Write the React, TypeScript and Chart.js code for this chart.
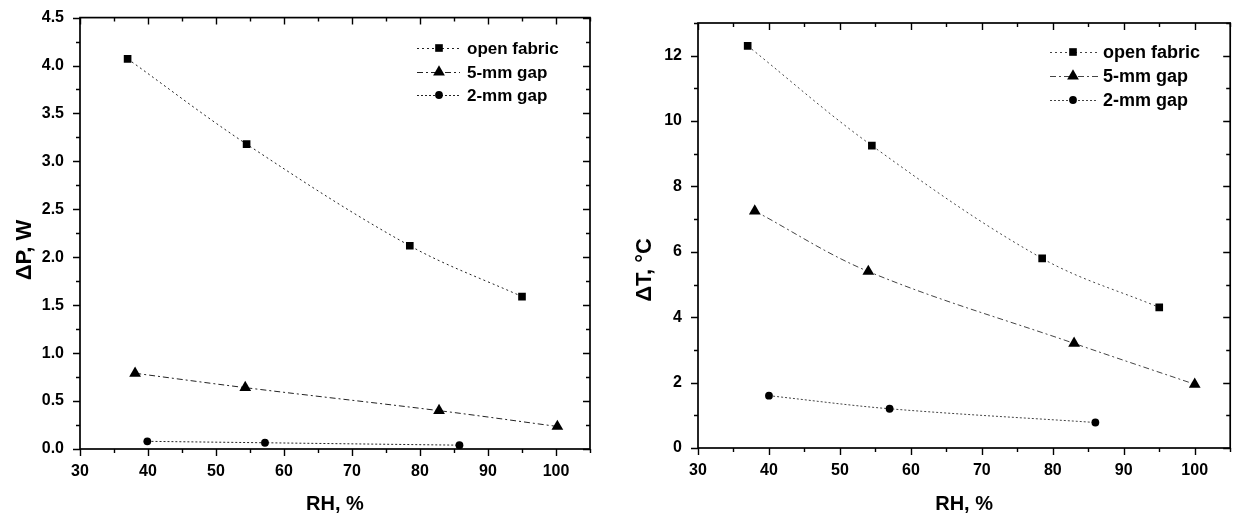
import React, { useEffect, useRef } from 'react';
import { Chart, registerables } from 'chart.js';

Chart.register(...registerables);

// ---------- data ----------
const seriesLabels = ['open fabric', '5-mm gap', '2-mm gap'];

// Left panel: ΔP, W vs RH, %
const openRH_P = [37, 54.5, 78.5, 95];
const openP = [4.07, 3.18, 2.12, 1.59];
const gap5RH_P = [38.1, 54.3, 82.8, 100.2];
const gap5P = [0.79, 0.64, 0.4, 0.235];
const gap2RH_P = [39.9, 57.2, 85.8];
const gap2P = [0.08, 0.065, 0.04];

// Right panel: ΔT, °C vs RH, %
const openRH_T = [37, 54.5, 78.5, 95];
const openT = [12.3, 9.25, 5.8, 4.3];
const gap5RH_T = [38, 54, 83, 100];
const gap5T = [7.25, 5.4, 3.2, 1.95];
const gap2RH_T = [40, 57, 86];
const gap2T = [1.6, 1.2, 0.78];

// axis ranges / tick steps
const rhRange = [30, 105];
const rhSteps = [10, 5];
const dpRange = [0, 4.5];
const dpSteps = [0.5, 0.25];
const dtRange = [0, 13];
const dtSteps = [2, 1];

const xTitle = 'RH, %';
const yTitleLeft = 'ΔP, W';
const yTitleRight = 'ΔT, °C';

const FONT = '"Liberation Sans", Arial, Helvetica, sans-serif';
const styles = [
  { pointStyle: 'rect', radius: 5.4, dash: [2, 3] },
  { pointStyle: 'triangle', radius: 6.8, dash: [6, 3, 2, 3] },
  { pointStyle: 'circle', radius: 3.9, dash: [2, 2] },
];

const toPts = (xs: number[], ys: number[]) => xs.map((x, i) => ({ x, y: ys[i] }));

function drawMarker(ctx: CanvasRenderingContext2D, style: string, r: number, x: number, y: number) {
  ctx.beginPath();
  if (style === 'rect') {
    const s = Math.SQRT1_2 * r;
    ctx.rect(x - s, y - s, 2 * s, 2 * s);
  } else if (style === 'triangle') {
    for (let k = 0; k < 3; k++) {
      const a = -Math.PI / 2 + (k * 2 * Math.PI) / 3;
      const px = x + r * Math.cos(a);
      const py = y + r * Math.sin(a);
      if (k === 0) ctx.moveTo(px, py);
      else ctx.lineTo(px, py);
    }
    ctx.closePath();
  } else {
    ctx.arc(x, y, r, 0, Math.PI * 2);
  }
  ctx.fill();
}

interface PanelCfg {
  series: { xs: number[]; ys: number[] }[];
  yRange: number[];
  ySteps: number[];
  yTitle: string;
  yFmt: (v: number) => string;
  width: number;
  padding: { left: number; right: number; top: number; bottom: number };
  yAxisW: number;
  xAxisH: number;
  yTitleX: number;
  yTitleY: number;
  legend: { x0: number; x1: number; xm: number; xt: number; ys: number[]; size: number };
  lineColor: string;
}

const isMajor = (v: number, step: number) => Math.abs(v / step - Math.round(v / step)) < 1e-6;

function makePlugin(cfg: PanelCfg) {
  return {
    id: 'frameTicksLegend',
    afterDraw(chart: any) {
      const ctx: CanvasRenderingContext2D = chart.ctx;
      const a = chart.chartArea;
      const xs = chart.scales.x;
      const ys = chart.scales.y;
      ctx.save();
      ctx.strokeStyle = '#000';
      ctx.lineWidth = 1.7;
      ctx.strokeRect(a.left, a.top, a.right - a.left, a.bottom - a.top);
      ctx.lineWidth = 1.4;
      ctx.beginPath();
      for (let v = rhRange[0]; v <= rhRange[1] + 1e-9; v += rhSteps[1]) {
        const px = Math.round(xs.getPixelForValue(v)) + 0.5;
        const len = isMajor(v, rhSteps[0]) ? 7 : 4;
        ctx.moveTo(px, a.bottom);
        ctx.lineTo(px, a.bottom + len);
        ctx.moveTo(px, a.top);
        ctx.lineTo(px, a.top + len);
      }
      for (let v = cfg.yRange[0]; v <= cfg.yRange[1] + 1e-9; v += cfg.ySteps[1]) {
        const py = Math.round(ys.getPixelForValue(v)) + 0.5;
        const len = isMajor(v, cfg.ySteps[0]) ? 7 : 4;
        ctx.moveTo(a.left, py);
        ctx.lineTo(a.left - len, py);
        ctx.moveTo(a.right, py);
        ctx.lineTo(a.right - len, py);
      }
      ctx.stroke();

      // axis titles
      ctx.fillStyle = '#000';
      ctx.font = `bold 20px ${FONT}`;
      ctx.textAlign = 'center';
      ctx.textBaseline = 'middle';
      ctx.fillText(xTitle, (a.left + a.right) / 2, 504);
      ctx.save();
      ctx.translate(cfg.yTitleX, cfg.yTitleY);
      ctx.rotate(-Math.PI / 2);
      ctx.font = `bold 22px ${FONT}`;
      ctx.fillText(cfg.yTitle, 0, 0);
      ctx.restore();

      // legend
      const lg = cfg.legend;
      ctx.font = `bold ${lg.size}px ${FONT}`;
      ctx.textAlign = 'left';
      seriesLabels.forEach((lab, i) => {
        const y = lg.ys[i];
        ctx.save();
        ctx.strokeStyle = cfg.lineColor;
        ctx.lineWidth = 1;
        ctx.setLineDash(styles[i].dash);
        ctx.beginPath();
        ctx.moveTo(lg.x0, y + 0.5);
        ctx.lineTo(lg.x1, y + 0.5);
        ctx.stroke();
        ctx.restore();
        ctx.fillStyle = '#000';
        drawMarker(ctx, styles[i].pointStyle, styles[i].radius, lg.xm, y);
        ctx.fillText(lab, lg.xt, y + 1);
      });
      ctx.restore();
    },
  };
}

function Panel({ cfg }: { cfg: PanelCfg }) {
  const ref = useRef<HTMLCanvasElement>(null);
  useEffect(() => {
    if (!ref.current) return;
    const tickFont = { family: FONT, size: 16, weight: 'bold' as const };
    const chart = new Chart(ref.current, {
      type: 'line',
      data: {
        datasets: cfg.series.map((s, i) => ({
          label: seriesLabels[i],
          data: toPts(s.xs, s.ys),
          borderColor: cfg.lineColor,
          borderWidth: 1,
          borderDash: styles[i].dash,
          backgroundColor: '#000',
          pointBackgroundColor: '#000',
          pointBorderColor: '#000',
          pointBorderWidth: 0,
          pointStyle: styles[i].pointStyle as any,
          pointRadius: styles[i].radius,
          tension: 0.35,
          fill: false,
        })),
      },
      options: {
        animation: false,
        responsive: false,
        events: [],
        layout: { padding: cfg.padding },
        plugins: { legend: { display: false }, tooltip: { enabled: false } },
        scales: {
          x: {
            type: 'linear',
            min: rhRange[0],
            max: rhRange[1],
            grid: { display: false },
            border: { display: false },
            ticks: {
              stepSize: rhSteps[0],
              includeBounds: false,
              autoSkip: false,
              maxRotation: 0,
              padding: 5,
              color: '#000',
              font: tickFont,
              callback: (v: any) => String(v),
            },
            afterFit: (s: any) => {
              s.height = cfg.xAxisH;
            },
          },
          y: {
            type: 'linear',
            min: cfg.yRange[0],
            max: cfg.yRange[1],
            grid: { display: false },
            border: { display: false },
            ticks: {
              stepSize: cfg.ySteps[0],
              includeBounds: false,
              autoSkip: false,
              padding: 8,
              color: '#000',
              font: tickFont,
              callback: (v: any) => cfg.yFmt(Number(v)),
            },
            afterFit: (s: any) => {
              s.width = cfg.yAxisW;
            },
          },
        },
      },
      plugins: [makePlugin(cfg)],
    });
    return () => chart.destroy();
  }, [cfg]);
  return <canvas ref={ref} width={cfg.width} height={518} style={{ display: 'block' }} />;
}

const leftCfg: PanelCfg = {
  series: [
    { xs: openRH_P, ys: openP },
    { xs: gap5RH_P, ys: gap5P },
    { xs: gap2RH_P, ys: gap2P },
  ],
  yRange: dpRange,
  ySteps: dpSteps,
  yTitle: yTitleLeft,
  yFmt: (v) => v.toFixed(1),
  width: 610,
  padding: { left: 0, right: 20, top: 15, bottom: 0 },
  yAxisW: 80,
  xAxisH: 69,
  yTitleX: 25,
  yTitleY: 250,
  legend: { x0: 417, x1: 460, xm: 439, xt: 467, ys: [48, 72, 95], size: 17 },
  lineColor: '#222',
};

const rightCfg: PanelCfg = {
  series: [
    { xs: openRH_T, ys: openT },
    { xs: gap5RH_T, ys: gap5T },
    { xs: gap2RH_T, ys: gap2T },
  ],
  yRange: dtRange,
  ySteps: dtSteps,
  yTitle: yTitleRight,
  yFmt: (v) => String(v),
  width: 622,
  padding: { left: 0, right: 4, top: 23, bottom: 0 },
  yAxisW: 83,
  xAxisH: 70,
  yTitleX: 30,
  yTitleY: 270,
  legend: { x0: 435, x1: 483, xm: 458, xt: 488, ys: [52, 76, 100], size: 18 },
  lineColor: '#444',
};

export default function App() {
  return (
    <div style={{ position: 'absolute', left: 0, top: 0, width: 1237, height: 518, background: '#fff' }}>
      <div style={{ position: 'absolute', left: 0, top: 0 }}>
        <Panel cfg={leftCfg} />
      </div>
      <div style={{ position: 'absolute', left: 615, top: 0 }}>
        <Panel cfg={rightCfg} />
      </div>
    </div>
  );
}
